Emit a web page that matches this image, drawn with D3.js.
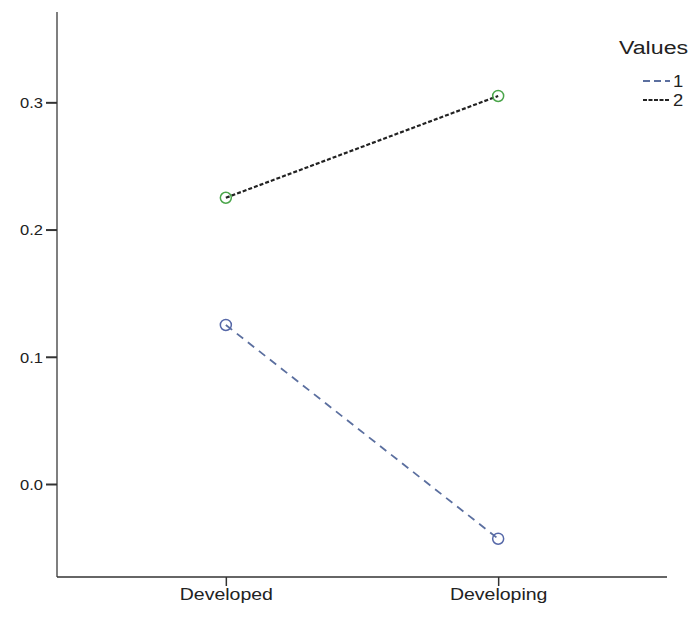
<!DOCTYPE html>
<html><head><meta charset="utf-8">
<script src="https://cdn.jsdelivr.net/npm/d3@7"></script>
<style>body{margin:0;background:#fff;} text{font-family:"Liberation Sans",Arial,sans-serif;}</style>
</head><body>
<svg id="c" width="694" height="620"></svg>
<script>
const categories = ["Developed", "Developing"];
const seriesNames = ["1", "2"];
const series1 = [0.125, -0.043];
const series2 = [0.225, 0.305];
const yTicks = [0.0, 0.1, 0.2, 0.3];

const svg = d3.select("#c");
const x = d3.scalePoint().domain(categories).range([57, 667]).padding(0.62);
const y = d3.scaleLinear().domain([-0.0731, 0.371]).range([577, 12]);

const yAxis = d3.axisLeft(y).tickValues(yTicks).tickFormat(d3.format(".1f")).tickSize(11).tickPadding(4);
const gy = svg.append("g").attr("transform","translate(57,0)").call(yAxis);
gy.select(".domain").attr("d","M0,12V577").attr("stroke","#555").attr("stroke-width",1.5);
gy.selectAll(".tick line").attr("stroke","#333").attr("stroke-width",2);
gy.selectAll(".tick text").attr("font-size",15).attr("fill","#222")
  .attr("x",0).attr("dy","0.35em").attr("transform","translate(-14,0) scale(1.1,1)");

const xAxis = d3.axisBottom(x).tickSize(9).tickPadding(6);
const gx = svg.append("g").attr("transform","translate(0,577)").call(xAxis);
gx.select(".domain").attr("d","M57,0H667").attr("stroke","#333").attr("stroke-width",1.5);
gx.selectAll(".tick line").attr("stroke","#333").attr("stroke-width",1.5);
gx.selectAll(".tick text").attr("font-size",16).attr("fill","#222")
  .attr("y",12).attr("transform","scale(1.22,1)");

const data = [
  {name: seriesNames[0], vals: series1, stroke: "#5b6f9f", dash: "8,6", width: 1.8, mark: "#5668a8"},
  {name: seriesNames[1], vals: series2, stroke: "#222", dash: "4,2", width: 2.2, mark: "#4aa54a"}
];
const line = d3.line().x((d,i)=>x(categories[i])).y(d=>y(d));
data.forEach(s=>{
  svg.append("path").attr("d", line(s.vals)).attr("fill","none")
    .attr("stroke", s.stroke).attr("stroke-width", s.width).attr("stroke-dasharray", s.dash);
  svg.selectAll(null).data(s.vals).enter().append("circle")
    .attr("cx",(d,i)=>x(categories[i])).attr("cy",d=>y(d)).attr("r",5.5)
    .attr("fill","none").attr("stroke",s.mark).attr("stroke-width",1.5);
});

const lg = svg.append("g");
lg.append("text").attr("transform","translate(619,54) scale(1.22,1)").attr("font-size",19).attr("fill","#222").text("Values");
data.forEach((s,i)=>{
  const yy = 81 + i*19;
  lg.append("line").attr("x1",643).attr("x2",670).attr("y1",yy).attr("y2",yy)
    .attr("stroke",s.stroke).attr("stroke-width",s.width).attr("stroke-dasharray", i===0?"7,4":"4,1.5");
  lg.append("text").attr("transform",`translate(673,${yy+6}) scale(1.15,1)`).attr("font-size",16).attr("fill","#222").text(s.name);
});
</script>
</body></html>
